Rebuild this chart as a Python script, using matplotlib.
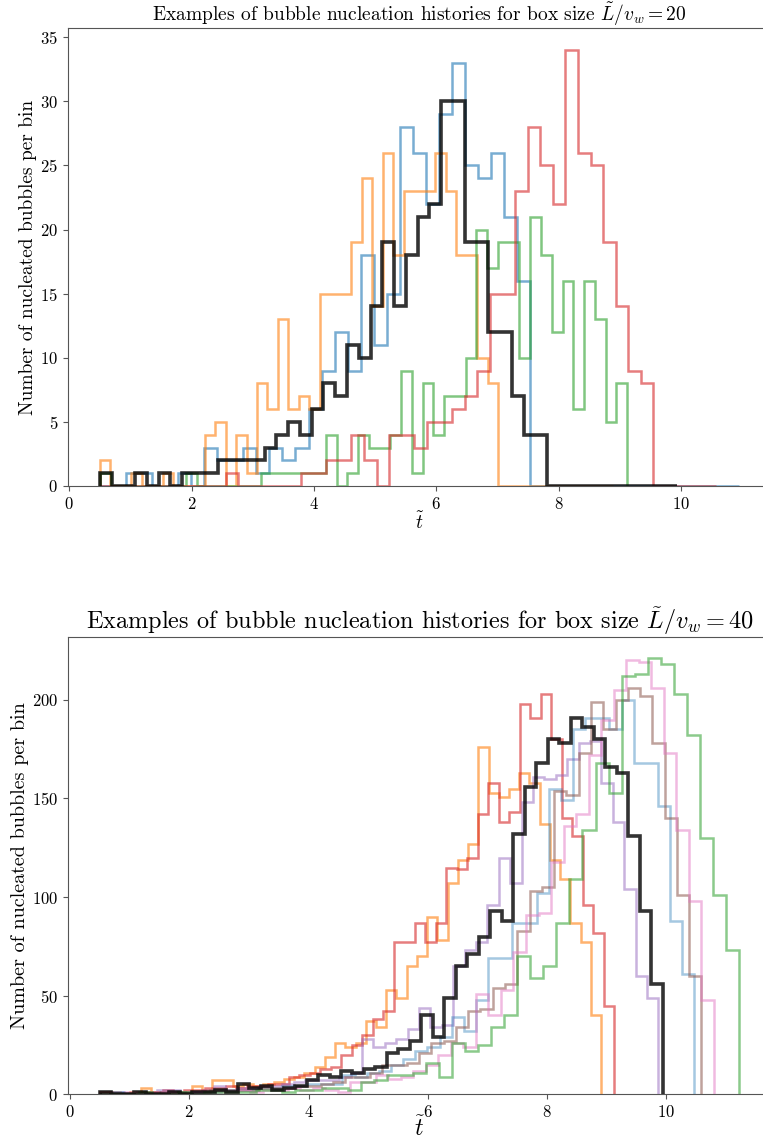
import numpy as np
import matplotlib
matplotlib.use("Agg")
import matplotlib.pyplot as plt

plt.rcParams.update({
    "font.family": "serif",
    "font.serif": ["cmr10"],
    "mathtext.fontset": "cm",
    "axes.formatter.use_mathtext": True,
    "axes.unicode_minus": False,
})

# ---- Box size L/v_w = 20: counts per bin (49 bins from t=0.5 to t_end) ----
top_t_start = 0.5
top_blue = [0, 0, 1, 1, 0, 0, 1, 0, 3, 2, 2, 3, 1, 3, 2, 3, 6, 9, 12, 9,
            18, 11, 15, 28, 26, 22, 29, 33, 25, 24, 26, 21, 16, 0, 0, 0, 0, 0, 0, 0,
            0, 0, 0, 0, 0, 0, 0, 0, 0]
top_orange = [2, 0, 0, 1, 0, 0, 1, 0, 0, 0, 4, 5, 0, 4, 1, 8, 6, 13, 6, 7,
              6, 15, 15, 15, 19, 24, 14, 26, 18, 23, 23, 23, 26, 23, 18, 18, 10, 8, 0, 0,
              0, 0, 0, 0, 0, 0, 0, 0, 0]
top_green = [1, 0, 0, 0, 0, 0, 0, 0, 1, 0, 0, 0, 0, 0, 0, 1, 1, 1, 1, 1,
             1, 4, 0, 1, 4, 3, 3, 4, 9, 1, 8, 4, 7, 7, 10, 20, 17, 19, 19, 10,
             21, 18, 12, 16, 6, 16, 13, 5, 8]
top_red = [0, 0, 0, 0, 0, 0, 0, 0, 0, 0, 1, 0, 0, 0, 0, 0, 1, 1, 2, 2,
           4, 2, 0, 4, 4, 3, 5, 5, 6, 7, 9, 15, 15, 23, 28, 25, 22, 34, 26, 25,
           19, 14, 9, 8, 0, 0, 0, 0, 0]
top_black = [1, 0, 0, 1, 0, 1, 0, 1, 1, 1, 2, 2, 2, 2, 3, 4, 5, 4, 6, 8,
             7, 11, 10, 14, 19, 14, 18, 21, 22, 30, 30, 19, 19, 12, 12, 7, 4, 4, 0, 0,
             0, 0, 0, 0, 0, 0, 0, 0, 0]
top_t_end = {"blue": 10.95, "orange": 8.894, "green": 9.12, "red": 10.58, "black": 9.93}

# ---- Box size L/v_w = 40 ----
bot_t_start = 0.5
bot_orange = [0, 1, 0, 1, 3, 1, 1, 1, 1, 4, 2, 7, 7, 4, 5, 4, 5, 6, 8, 9,
              11, 14, 19, 26, 24, 26, 37, 34, 53, 49, 65, 70, 90, 78, 107, 119, 127, 176, 153, 151,
              155, 163, 158, 137, 119, 109, 87, 77, 40]
bot_red = [1, 0, 0, 0, 1, 1, 2, 1, 2, 2, 3, 3, 4, 3, 4, 4, 5, 5, 9, 10,
           11, 13, 14, 20, 25, 30, 38, 42, 77, 77, 87, 77, 87, 115, 114, 120, 142, 158, 138, 143,
           198, 191, 203, 180, 140, 131, 96, 82, 45]
bot_purple = [0, 1, 0, 0, 1, 2, 2, 1, 1, 2, 4, 2, 3, 3, 4, 4, 5, 6, 7, 7,
              7, 9, 11, 28, 24, 26, 28, 33, 44, 34, 35, 65, 73, 77, 96, 120, 107, 148, 161, 160,
              162, 170, 178, 179, 158, 138, 104, 60, 49]
bot_blue = [0, 1, 0, 0, 0, 1, 1, 1, 1, 1, 2, 2, 2, 3, 3, 4, 4, 5, 5, 5,
            10, 9, 11, 12, 15, 18, 22, 24, 29, 39, 32, 48, 69, 69, 87, 87, 102, 155, 149, 185,
            191, 191, 185, 200, 168, 168, 146, 88, 61]
bot_brown = [1, 0, 0, 1, 0, 1, 1, 1, 1, 2, 2, 2, 2, 3, 3, 3, 4, 4, 5, 6,
             9, 9, 11, 15, 15, 16, 21, 26, 27, 34, 42, 43, 54, 56, 83, 103, 105, 154, 152, 173,
             199, 185, 200, 206, 202, 178, 140, 101, 60]
bot_pink = [0, 0, 1, 0, 0, 1, 0, 1, 1, 1, 1, 2, 1, 2, 2, 3, 2, 3, 2, 1,
            6, 6, 10, 8, 9, 12, 15, 20, 26, 24, 51, 40, 53, 72, 91, 92, 118, 136, 142, 172,
            190, 205, 220, 219, 206, 173, 134, 98, 48]
bot_green = [0, 0, 0, 1, 0, 0, 1, 0, 1, 1, 1, 1, 2, 2, 1, 2, 2, 3, 3, 2,
             6, 7, 10, 10, 11, 16, 9, 26, 22, 25, 34, 40, 70, 59, 65, 87, 109, 134, 168, 153,
             212, 213, 221, 218, 203, 182, 130, 101, 73]
bot_black = [1, 0, 0, 1, 0, 0, 1, 0, 1, 1, 2, 1, 5, 3, 4, 2, 3, 4, 7, 10,
             9, 12, 11, 13, 14, 21, 23, 27, 40, 29, 49, 65, 71, 80, 93, 88, 132, 156, 168, 180,
             178, 191, 186, 180, 166, 163, 131, 93, 56]
bot_t_end = {"orange": 8.906, "red": 9.129, "purple": 9.866, "blue": 10.47,
             "brown": 10.59, "pink": 10.80, "green": 11.22, "black": 9.938}

title_top = r"Examples of bubble nucleation histories for box size $\tilde{L}/v_w = 20$"
title_bot = r"Examples of bubble nucleation histories for box size $\tilde{L}/v_w = 40$"
ylabel = "Number of nucleated bubbles per bin"
xlabel = r"$\tilde{t}$"

colors = {"blue": "tab:blue", "orange": "tab:orange", "green": "tab:green",
          "red": "tab:red", "purple": "tab:purple", "brown": "tab:brown",
          "pink": "tab:pink"}


def draw(ax, series, t_start, t_end, alphas):
    for name, counts in series:
        counts = np.asarray(counts, dtype=float)
        edges = np.linspace(t_start, t_end[name], len(counts) + 1)
        if name == "black":
            ax.stairs(counts, edges, color="black", alpha=0.8, lw=2.6, zorder=5)
        else:
            ax.stairs(counts, edges, color=colors[name], alpha=alphas.get(name, 0.6), lw=1.8)


fig = plt.figure(figsize=(7.63, 11.40), dpi=100)

ax1 = fig.add_axes([0.0889, 0.5737, 0.9216, 0.4015])
draw(ax1, [("blue", top_blue), ("orange", top_orange), ("green", top_green),
           ("red", top_red), ("black", top_black)], top_t_start, top_t_end, {})
ax1.set_title(title_top, fontsize=14, pad=4)
ax1.set_ylabel(ylabel, fontsize=14, labelpad=2)
ax1.set_xlabel(xlabel, fontsize=14, labelpad=0)
ax1.tick_params(labelsize=12)

ax2 = fig.add_axes([0.0889, 0.0401, 0.9216, 0.4014])
draw(ax2, [("orange", bot_orange), ("red", bot_red), ("purple", bot_purple),
           ("blue", bot_blue), ("brown", bot_brown), ("pink", bot_pink),
           ("green", bot_green), ("black", bot_black)], bot_t_start, bot_t_end,
     {"orange": 0.6, "red": 0.6, "purple": 0.5, "blue": 0.4, "brown": 0.55,
      "pink": 0.5, "green": 0.55})
ax2.set_title(title_bot, fontsize=17.5, pad=4)
ax2.set_ylabel(ylabel, fontsize=14.5, labelpad=2)
ax2.set_xlabel(xlabel, fontsize=17, labelpad=-3)
ax2.tick_params(labelsize=12)

for ax in (ax1, ax2):
    for s in ax.spines.values():
        s.set_color("#555555")
    ax.tick_params(color="#555555")

fig.savefig("out.png", dpi=100)
